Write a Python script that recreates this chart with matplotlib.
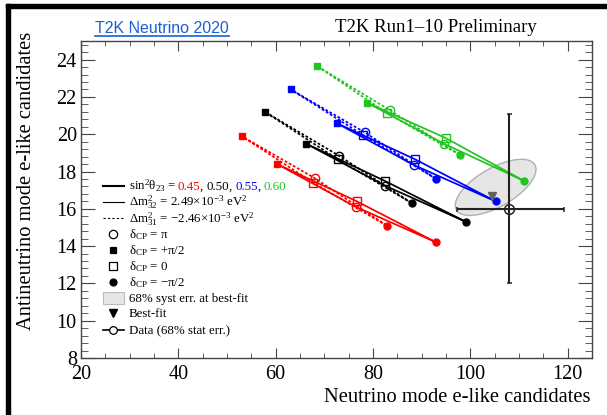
import numpy as np
import matplotlib
matplotlib.use('Agg')
import matplotlib.pyplot as plt
from matplotlib.patches import Ellipse, Rectangle
from matplotlib.lines import Line2D
from matplotlib.transforms import Affine2D, IdentityTransform
from matplotlib.ticker import MultipleLocator

plt.rcParams['font.family'] = ['Liberation Serif', 'DejaVu Serif']
plt.rcParams['mathtext.fontset'] = 'custom'
plt.rcParams['mathtext.rm'] = 'Liberation Serif'
plt.rcParams['mathtext.it'] = 'Liberation Serif:italic'
plt.rcParams['mathtext.bf'] = 'Liberation Serif:bold'

# sin^2(theta23) hypotheses and their colours
sin2_th23 = ['0.45', '0.50', '0.55', '0.60']
colours = ['#ff0000', '#000000', '#0000ff', '#22c422']

# predicted event numbers, points ordered delta_CP = -pi/2, 0, +pi/2, pi
# normal ordering (dm2_32 = 2.49e-3)
no_nu = [[93.0, 76.7, 60.3, 76.5],
         [99.1, 82.4, 66.2, 82.4],
         [105.2, 88.7, 72.5, 88.4],
         [111.0, 94.9, 78.7, 94.5]]
no_nubar = [[14.2, 16.4, 18.4, 16.1],
            [15.3, 17.5, 19.5, 17.25],
            [16.4, 18.65, 20.6, 18.35],
            [17.5, 19.8, 21.7, 19.5]]
# inverted ordering (dm2_31 = -2.46e-3)
io_nu = [[82.8, 67.7, 53.0, 68.0],
         [88.0, 72.8, 57.8, 73.0],
         [93.0, 78.0, 63.1, 78.3],
         [97.8, 82.8, 68.5, 83.4]]
io_nubar = [[15.1, 17.4, 19.9, 17.65],
            [16.3, 18.65, 21.2, 18.85],
            [17.6, 19.95, 22.4, 20.1],
            [18.9, 21.15, 23.66, 21.3]]

# data with 68% stat errors
data_nu = 108.0
data_nubar = 16.0
data_nu_err = [10.7, 11.2]
data_nubar_err = [4.0, 5.1]

# best fit and syst ellipse (centre, semi-axis vectors)
bestfit_nu = 104.4
bestfit_nubar = 16.7
syst_centre = (105.2, 17.15)
syst_axis1 = (8.3, 0.96)
syst_axis2 = (0.0, 1.16)

fig = plt.figure(figsize=(6.07, 4.15), dpi=100)
ax = fig.add_axes([81/607, 1-358/415, 511/607, 317/415])

# syst error ellipse
M = np.array([[syst_axis1[0], syst_axis2[0], syst_centre[0]],
              [syst_axis1[1], syst_axis2[1], syst_centre[1]],
              [0, 0, 1]])
ell = Ellipse((0, 0), 2, 2, transform=Affine2D(M) + ax.transData,
              facecolor='#e6e6e6', edgecolor='#b0b0b0', lw=1, zorder=1)
ax.add_patch(ell)

# delta_CP markers: -pi/2 filled circle, 0 open square, +pi/2 filled square, pi open circle
mk = [('o', True, 5), ('s', False, 5.5), ('s', True, 5), ('o', False, 6)]

for i, c in enumerate(colours):
    for xs, ys, ls in [(io_nu[i], io_nubar[i], (0, (1.6, 1.1))), (no_nu[i], no_nubar[i], '-')]:
        ax.plot(xs + xs[:1], ys + ys[:1], color=c, lw=1.25, ls=ls, zorder=3)
        for j in range(4):
            m, filled, ms = mk[j]
            ax.plot(xs[j], ys[j], marker=m, ms=ms, color=c,
                    mfc=c if filled else 'none', mec=c, mew=1.0, zorder=4)

ax.plot(bestfit_nu, bestfit_nubar, marker='v', ms=6, color='#606060', zorder=5)

ax.errorbar(data_nu, data_nubar,
            xerr=[[data_nu_err[0]], [data_nu_err[1]]],
            yerr=[[data_nubar_err[0]], [data_nubar_err[1]]],
            fmt='o', ms=7, mfc='none', mec='#222222', mew=1.1,
            ecolor='#222222', elinewidth=1.5, capsize=1.8, capthick=1.2, zorder=6)

ax.set_xlim(20, 125)
ax.set_ylim(8, 25)
ax.xaxis.set_major_locator(MultipleLocator(20))
ax.xaxis.set_minor_locator(MultipleLocator(5))
ax.yaxis.set_major_locator(MultipleLocator(2))
ax.yaxis.set_minor_locator(MultipleLocator(0.4))
ax.tick_params(which='both', direction='in', top=True, right=True,
               color='#444444', labelsize=14.5)
ax.tick_params(axis='x', which='major', length=7.2, pad=5)
ax.tick_params(axis='x', which='minor', length=3.6)
ax.tick_params(axis='y', which='major', length=10, pad=3)
ax.tick_params(axis='y', which='minor', length=5)
for s in ax.spines.values():
    s.set_color('#444444')
    s.set_linewidth(1.0)

# legend, drawn by hand in axes fraction
rows = [0.543, 0.493, 0.441, 0.390, 0.341, 0.289, 0.239, 0.188, 0.141, 0.088]
lx0, lx1, lxm, tx = 0.043, 0.084, 0.0636, 0.094
fs = 9.3
tr = ax.transAxes
ax.add_line(Line2D([lx0, lx1], [rows[0]]*2, color='black', lw=1.5, transform=tr))
ax.add_line(Line2D([lx0, lx1], [rows[1]]*2, color='black', lw=0.8, transform=tr))
ax.add_line(Line2D([lx0, lx1], [rows[2]]*2, color='black', lw=0.8, ls=(0, (2, 2)), transform=tr))
for k, (m, filled, ms) in zip([3, 4, 5, 6], [mk[3], mk[2], mk[1], mk[0]]):
    ax.plot(lxm, rows[k], marker=m, ms=ms, color='black',
            mfc='black' if filled else 'none', mew=0.9, transform=tr)
ax.add_patch(Rectangle((lx0, rows[7] - 0.019), lx1 - lx0, 0.038, transform=tr,
                       facecolor='#e6e6e6', edgecolor='#bbbbbb', lw=0.8))
ax.plot(lxm, rows[8], marker='v', ms=5.5, color='black', transform=tr)
ax.add_line(Line2D([lx0, lx1], [rows[9]]*2, color='black', lw=1.2, transform=tr))
ax.plot(lxm, rows[9], marker='o', ms=5.5, mfc='white', mec='black', mew=0.9, transform=tr)

labels = [None,
          'Δm$^2_{32}$ = 2.49×10$^{-3}$ eV$^2$',
          'Δm$^2_{31}$ = −2.46×10$^{-3}$ eV$^2$',
          'δ$_{\\mathrm{CP}}$ = π',
          'δ$_{\\mathrm{CP}}$ = +π/2',
          'δ$_{\\mathrm{CP}}$ = 0',
          'δ$_{\\mathrm{CP}}$ = −π/2',
          '68% syst err. at best-fit',
          'Best-fit',
          'Data (68% stat err.)']
base = -0.0126
for k, lab in enumerate(labels):
    if lab:
        ax.text(tx, rows[k] + base, lab, transform=tr, fontsize=fs, va='baseline')

first = ax.text(tx, rows[0] + base, 'sin$^2$θ$_{23}$ = ', transform=tr, fontsize=fs, va='baseline')
fig.canvas.draw()
r = fig.canvas.get_renderer()
ybase = tr.transform((0, rows[0] + base))[1]
xcur = first.get_window_extent(r).x1
pieces = []
for i, (v, c) in enumerate(zip(sin2_th23, colours)):
    pieces.append((v, c))
    if i < 3:
        pieces.append((', ', 'black'))
for s, c in pieces:
    t = ax.text(xcur, ybase, s, transform=IdentityTransform(), fontsize=fs, color=c, va='baseline')
    xcur = t.get_window_extent(r).x1

# titles and axis labels
fig.text(436/607, 1-32/415, 'T2K Run1–10 Preliminary', ha='center', va='baseline', fontsize=13.5)
fig.text(95/607, 1-33/415, 'T2K Neutrino 2020', ha='left', va='baseline', fontsize=11.5,
         family='Liberation Sans', color='#1a5fd6')
fig.add_artist(Line2D([95/607, 229/607], [1-36.5/415]*2, color='#1a5fd6', lw=1.2))
fig.text(591/607, 1-402/415, 'Neutrino mode e-like candidates', ha='right', va='baseline', fontsize=14.8)
fig.text(27/607, 1-32/415, 'Antineutrino mode e-like candidates', ha='center', va='top',
         rotation=90, fontsize=14.8)

# slide frame on top and left
fig.add_artist(Rectangle((6/607, 0), 4/607, 1-4/415, transform=fig.transFigure, color='black'))
fig.add_artist(Rectangle((6/607, 1-8/415), 1, 4/415, transform=fig.transFigure, color='black'))

fig.savefig('out.png', dpi=100)
